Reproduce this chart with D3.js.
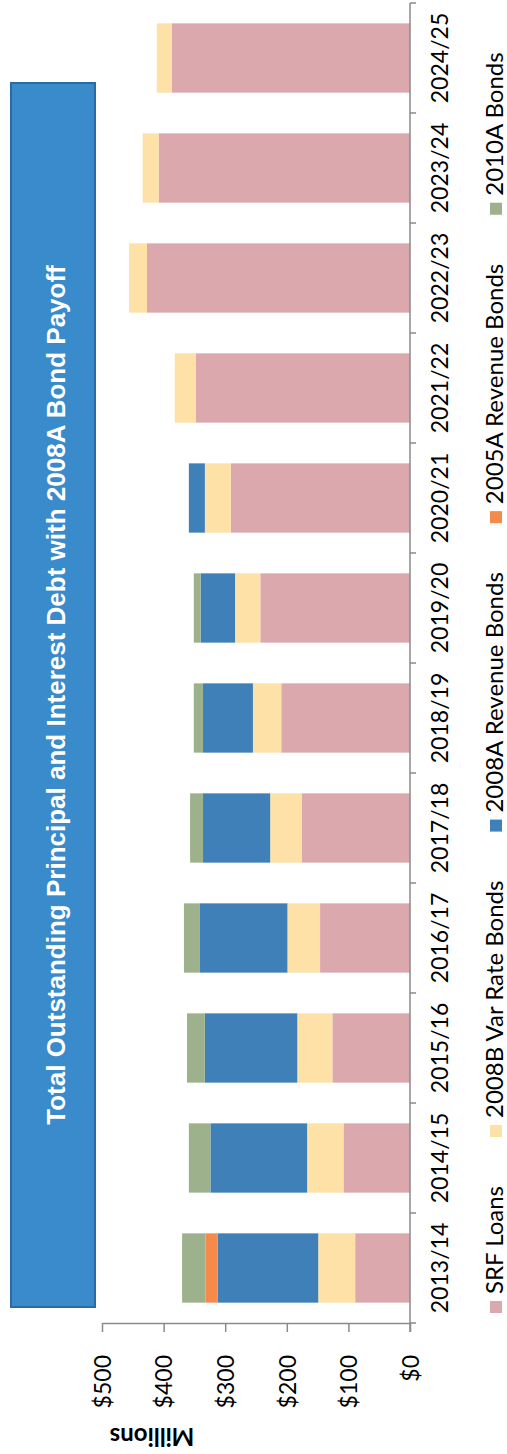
<!DOCTYPE html>
<html>
<head>
<meta charset="utf-8">
<script src="https://cdn.jsdelivr.net/npm/d3@7"></script>
<style>
  html, body { margin: 0; padding: 0; background: #fff; }
  svg { display: block; }
</style>
</head>
<body>
<svg id="chart" width="507" height="1454"></svg>
<script>
// Fiscal years and outstanding principal + interest by debt type ($ millions)
const categories = ["2013/14","2014/15","2015/16","2016/17","2017/18","2018/19",
                    "2019/20","2020/21","2021/22","2022/23","2023/24","2024/25"];
const srfLoans        = [89, 108, 126, 146, 176, 209, 243, 291, 348, 427, 408, 387];
const varRate2008B    = [60,  59,  57,  53,  51,  46,  41,  42,  34,  29,  26,  24];
const revenue2008A    = [163, 157, 150, 142, 109, 81,  56,  26,   0,   0,   0,   0];
const revenue2005A    = [20,   0,   0,   0,   0,   0,   0,   0,   0,   0,   0,   0];
const bonds2010A      = [38,  35,  29,  26,  21,  15,  11,   0,   0,   0,   0,   0];
const seriesNames = ["SRF Loans","2008B Var Rate Bonds","2008A Revenue Bonds",
                     "2005A Revenue Bonds","2010A Bonds"];
const seriesColors = ["#dba8ad","#fde1a6","#3f80b8","#f58a4b","#9db28c"];
const valueTicks = [0, 100, 200, 300, 400, 500];
const titleText = "Total Outstanding Principal and Interest Debt with 2008A Bond Payoff";
const axisTitle = "Millions";

const seriesValues = [srfLoans, varRate2008B, revenue2008A, revenue2005A, bonds2010A];
const rows = categories.map((c, i) => {
  const r = { year: c };
  seriesNames.forEach((n, k) => { r[n] = seriesValues[k][i]; });
  return r;
});
const stacked = d3.stack().keys(seriesNames)(rows);
const color = d3.scaleOrdinal(seriesNames, seriesColors);

const svg = d3.select("#chart");
const labelFont = "Lato, 'Open Sans', sans-serif";

// The chart is laid out turned a quarter turn: values run right-to-left, years bottom-to-top
const x = d3.scaleLinear().domain([0, 500]).range([410, 102]);
const y = d3.scaleBand().domain(categories).range([1323, 3])
  .paddingInner(0.37).paddingOuter(0.185);

// Title banner
svg.append("rect")
  .attr("x", 11).attr("y", 83).attr("width", 84).attr("height", 1224)
  .attr("fill", "#3a8bcb").attr("stroke", "#2b6ba3").attr("stroke-width", 2);
svg.append("text")
  .attr("transform", `translate(65,${83 + 1224 / 2}) rotate(-90)`)
  .attr("text-anchor", "middle")
  .attr("font-family", "'Liberation Sans', Arial, sans-serif")
  .attr("font-weight", "bold")
  .attr("font-size", 26)
  .attr("fill", "#fff")
  .text(titleText);

// Stacked bars
svg.append("g").selectAll("g").data(stacked).join("g")
  .attr("fill", d => color(d.key))
  .selectAll("rect").data(d => d).join("rect")
  .attr("x", d => x(d[1]))
  .attr("width", d => x(d[0]) - x(d[1]))
  .attr("y", d => y(d.data.year))
  .attr("height", y.bandwidth());

// Value axis
const axisColor = "#8a8a8a";
const xAxis = svg.append("g").attr("transform", "translate(0,1323)")
  .call(d3.axisBottom(x).tickValues(valueTicks).tickFormat(d => "$" + d)
    .tickSize(9).tickSizeOuter(0));
xAxis.select(".domain").attr("stroke", axisColor).attr("stroke-width", 1.5);
xAxis.selectAll(".tick line").attr("stroke", axisColor).attr("stroke-width", 1.5);
xAxis.selectAll(".tick text")
  .attr("transform", "rotate(-90)")
  .attr("x", -32).attr("y", 0).attr("dy", "0.36em")
  .attr("text-anchor", "end")
  .attr("font-family", labelFont).attr("font-size", 23).attr("fill", "#000");

svg.append("text")
  .attr("transform", "translate(152,1428) rotate(180)")
  .attr("text-anchor", "middle")
  .attr("font-family", labelFont).attr("font-weight", "bold").attr("font-size", 24)
  .text(axisTitle);

// Category axis with boundary ticks
const catAxis = svg.append("g");
catAxis.append("line")
  .attr("x1", x(0)).attr("x2", x(0)).attr("y1", y.range()[1]).attr("y2", y.range()[0] + 9)
  .attr("stroke", axisColor).attr("stroke-width", 1.5);
const half = y.step() * y.paddingInner() / 2;
const bounds = categories.map(c => y(c) - half).concat([y.range()[0]]);
catAxis.selectAll("line.b").data(bounds).join("line").attr("class", "b")
  .attr("x1", x(0)).attr("x2", x(0) + 6)
  .attr("y1", d => d).attr("y2", d => d)
  .attr("stroke", axisColor).attr("stroke-width", 1.5);
catAxis.selectAll("text").data(categories).join("text")
  .attr("transform", d => `translate(448,${y(d) + y.bandwidth() / 2}) rotate(-90)`)
  .attr("text-anchor", "middle")
  .attr("font-family", labelFont).attr("font-size", 23)
  .text(d => d);

// Legend, read bottom-to-top
const legend = svg.append("g");
let pos = 1313;
seriesNames.forEach(name => {
  legend.append("rect")
    .attr("x", 490).attr("y", pos - 12).attr("width", 12).attr("height", 12)
    .attr("fill", color(name));
  const t = legend.append("text")
    .attr("transform", `translate(503,${pos - 19}) rotate(-90)`)
    .attr("font-family", labelFont).attr("font-size", 24)
    .text(name);
  pos -= 12 + 7 + t.node().getComputedTextLength() + 49;
});
</script>
</body>
</html>
